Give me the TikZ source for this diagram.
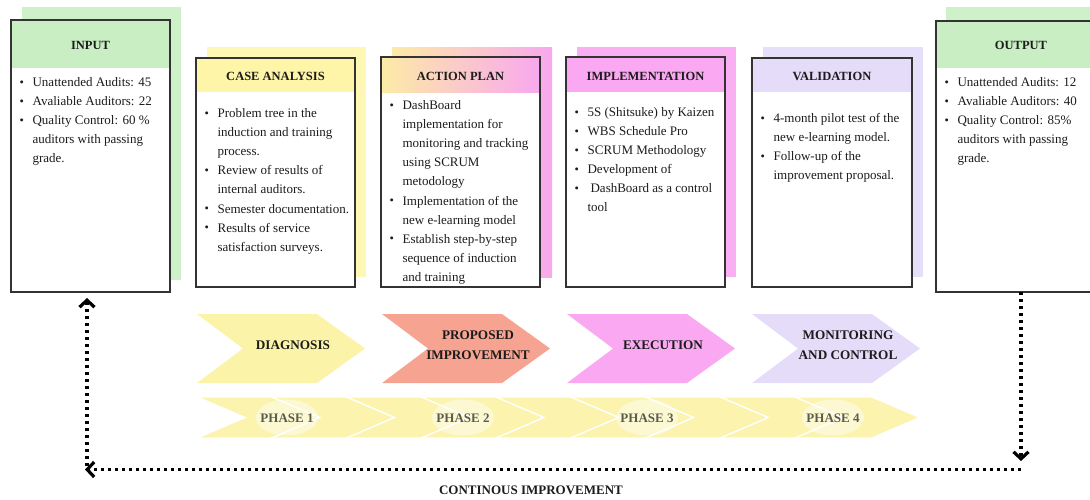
\documentclass[tikz,border=0pt]{standalone}
\usepackage{fontspec}
\setmainfont{Liberation Serif}
\usetikzlibrary{arrows.meta}
\definecolor{grn}{HTML}{C9EEC4}
\definecolor{grnS}{HTML}{CFF1CA}
\definecolor{yel}{HTML}{FFF5A8}
\definecolor{yelS}{HTML}{FFF7B4}
\definecolor{cyel}{HTML}{FAF3A8}
\definecolor{phy}{HTML}{FBF3AE}
\definecolor{apL}{HTML}{FCEBA6}
\definecolor{apR}{HTML}{F8A8EE}
\definecolor{pnk}{HTML}{F9A8F1}
\definecolor{pnkS}{HTML}{FAAFF3}
\definecolor{slm}{HTML}{F7A391}
\definecolor{lav}{HTML}{E4DCF8}
\definecolor{lavS}{HTML}{E6DFFA}
\definecolor{boxline}{HTML}{333333}
\definecolor{txt}{HTML}{1C1C1C}
\definecolor{phasetxt}{HTML}{5C5C4C}
\newcommand{\bul}{\makebox[13pt][l]{\raisebox{0.3pt}{\scalebox{0.95}{\textbullet}}}}
\newcommand{\ind}{\hspace*{13pt}}
\tikzset{
 cardbox/.style={fill=white, draw=none, anchor=north west, inner sep=0pt, outer sep=0pt},
 cardline/.style={draw=boxline, line width=1.2pt},
 hdrtext/.style={font=\fontsize{12.5}{14}\selectfont\bfseries, text=txt, inner sep=0pt},
 bodytext/.style={font=\fontsize{13}{19.1}\selectfont, text=txt, align=left, anchor=north west, inner sep=0pt},
 chevtext/.style={font=\fontsize{13.2}{20}\selectfont\bfseries, text=txt, align=center, inner sep=0pt},
 phasetext/.style={font=\fontsize{13}{15}\selectfont\bfseries, text=phasetxt, inner sep=0pt},
 bottomtext/.style={font=\fontsize{13}{15}\selectfont\bfseries, text=txt, inner sep=0pt},
 dotarrow/.style={line width=3.4pt, dash pattern=on 3.2pt off 3.8pt, -{Straight Barb[length=7pt,width=15pt,line width=3.2pt]}},
}
\begin{document}
\begin{tikzpicture}[x=1pt,y=-1pt]
\useasboundingbox (0,0) rectangle (1090,499);
\clip (0,0) rectangle (1090,499);

% ---------- INPUT ----------
\fill[grnS] (22,7) rectangle (181,280);
\node[cardbox, minimum width=159pt, minimum height=272pt] (inbox) at (11,20) {};
\fill[grn] (11,20) rectangle (170,68);
\draw[cardline] (inbox.north west) rectangle (inbox.south east);
\node[hdrtext] (inhdr) at (90.5,45) {INPUT};
\node[bodytext] (inbody) at (19.4,72.8) {\strut\bul Unattended Audits: 45\\\bul Avaliable Auditors: 22\\\bul Quality Control: 60 \%\\\ind auditors with passing\\\ind grade.};

% ---------- CASE ANALYSIS ----------
\fill[yelS] (207,47) rectangle (366,277);
\node[cardbox, minimum width=159pt, minimum height=229pt] (cabox) at (196,58) {};
\fill[yel] (196,58) rectangle (355,92);
\draw[cardline] (cabox.north west) rectangle (cabox.south east);
\node[hdrtext] (cahdr) at (275.5,76) {CASE ANALYSIS};
\node[bodytext] (cabody) at (204.4,104) {\strut\bul Problem tree in the\\\ind induction and training\\\ind process.\\\bul Review of results of\\\ind internal auditors.\\\bul Semester documentation.\\\bul Results of service\\\ind satisfaction surveys.};

% ---------- ACTION PLAN ----------
\shade[left color=apL, right color=apR] (392,47) rectangle (552,277);
\node[cardbox, minimum width=159pt, minimum height=230pt] (apbox) at (381,57) {};
\shade[left color=apL, right color=apR] (381,57) rectangle (540,92);
\draw[cardline] (apbox.north west) rectangle (apbox.south east);
\node[hdrtext] (aphdr) at (460.5,76.5) {ACTION PLAN};
\node[bodytext] (apbody) at (389.4,96) {\strut\bul DashBoard\\\ind implementation for\\\ind monitoring and tracking\\\ind using SCRUM\\\ind metodology\\\bul Implementation of the\\\ind new e-learning model\\\bul Establish step-by-step\\\ind sequence of induction\\\ind and training};

% ---------- IMPLEMENTATION ----------
\fill[pnkS] (577,47) rectangle (736,277);
\node[cardbox, minimum width=159pt, minimum height=230pt] (imbox) at (566,57) {};
\fill[pnk] (566,57) rectangle (725,92);
\draw[cardline] (imbox.north west) rectangle (imbox.south east);
\node[hdrtext] (imhdr) at (645.5,76.5) {IMPLEMENTATION};
\node[bodytext] (imbody) at (574.4,102.8) {\strut\bul 5S (Shitsuke) by Kaizen\\\bul WBS Schedule Pro\\\bul SCRUM Methodology\\\bul Development of\\\bul\hspace{3pt}DashBoard as a control\\\ind tool};

% ---------- VALIDATION ----------
\fill[lavS] (763,47) rectangle (923,277);
\node[cardbox, minimum width=160pt, minimum height=229pt] (vabox) at (752,58) {};
\fill[lav] (752,58) rectangle (912,92);
\draw[cardline] (vabox.north west) rectangle (vabox.south east);
\node[hdrtext] (vahdr) at (832,76) {VALIDATION};
\node[bodytext] (vabody) at (760.4,108.8) {\strut\bul 4-month pilot test of the\\\ind new e-learning model.\\\bul Follow-up of the\\\ind improvement proposal.};

% ---------- OUTPUT ----------
\fill[grnS] (946,7) rectangle (1116,280);
\node[cardbox, minimum width=170pt, minimum height=271pt] (outbox) at (936,21) {};
\fill[grn] (936,21) rectangle (1106,68);
\draw[cardline] (outbox.north west) rectangle (outbox.south east);
\node[hdrtext] (outhdr) at (1021,45) {OUTPUT};
\node[bodytext] (outbody) at (944.4,72.8) {\strut\bul Unattended Audits: 12\\\bul Avaliable Auditors: 40\\\bul Quality Control: 85\%\\\ind auditors with passing\\\ind grade.};

% ---------- top chevrons ----------
\foreach \L/\c in {197/cyel, 382/slm, 567/pnk, 752/lav}{
  \fill[\c] (\L,314) -- ++(120,0) -- ++(48,34.5) -- ++(-48,34.5) -- ++(-120,0) -- ++(46,-34.5) -- cycle;
}
\node[chevtext] (diag) at (293,345) {DIAGNOSIS};
\node[chevtext] (prop) at (478,345) {PROPOSED\\IMPROVEMENT};
\node[chevtext] (exec) at (663,345) {EXECUTION};
\node[chevtext] (moni) at (848,345.5) {MONITORING\\AND CONTROL};

% ---------- phase row ----------
\foreach \k in {0,...,8}{
  \pgfmathsetmacro{\L}{197+74.75*\k}
  \fill[phy, draw=white, line width=1.4pt, line join=miter] (\L,397) -- ++(77,0) -- ++(48,20.5) -- ++(-48,20.5) -- ++(-77,0) -- ++(48,-20.5) -- cycle;
}
\foreach \x in {287,463,647,833}{
  \fill[white, opacity=0.45] (\x,417.5) ellipse [x radius=31pt, y radius=18pt];
}
\node[phasetext] (ph1) at (287,418) {PHASE 1};
\node[phasetext] (ph2) at (463,418) {PHASE 2};
\node[phasetext] (ph3) at (647,418) {PHASE 3};
\node[phasetext] (ph4) at (833,418) {PHASE 4};

% ---------- continuous improvement loop ----------
\coordinate (rtip) at (1021,461);
\coordinate (rbend) at (1021,469.5);
\coordinate (ltip) at (85,469.5);
\coordinate (lbend) at (87,466);
\draw[dotarrow] (outbox.south) -- (rtip);
\draw[dotarrow] (rbend) -- (ltip);
\draw[dotarrow, shorten >=6pt] (lbend) -- (inbox.south -| lbend);
\node[bottomtext] (cont) at (531,490) {CONTINOUS IMPROVEMENT};
\end{tikzpicture}
\end{document}
